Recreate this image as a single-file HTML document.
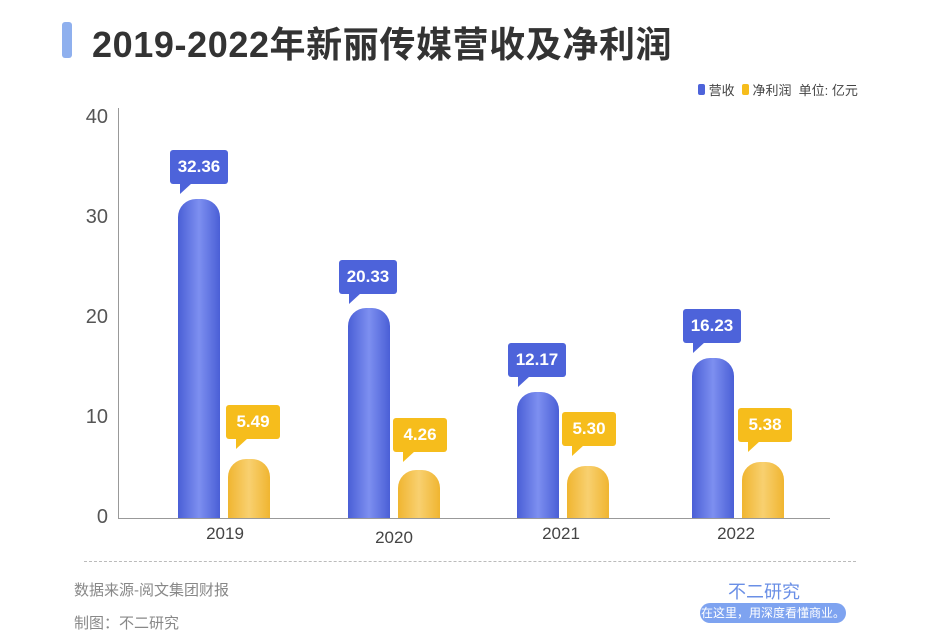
<!DOCTYPE html><html><head><meta charset="utf-8"><style>
body{margin:0;width:940px;height:644px;background:#fff;position:relative;overflow:hidden;font-family:"Liberation Sans","Noto Sans CJK SC",sans-serif}
.a{position:absolute}
.bb{position:absolute;width:42px;border-radius:18px 18px 0 0;background:linear-gradient(90deg,#4a5fd6,#7d8ff0 50%,#4a5fd6)}
.gb{position:absolute;width:42px;border-radius:18px 18px 0 0;background:linear-gradient(90deg,#f0b530,#f8d070 50%,#f0b530)}
.c{position:absolute;height:34px;line-height:34px;color:#fff;font-weight:bold;font-size:17px;text-align:center;border-radius:3px}
.c:after{content:"";position:absolute;left:10px;bottom:-10px;border-left:0 solid transparent;border-right:12px solid transparent;border-top:11px solid}
.cb{background:#4d63da;width:58px}.cb:after{border-top-color:#4d63da}
.cg{background:#f6bd1c;width:54px}.cg:after{border-top-color:#f6bd1c}
.y{position:absolute;left:70px;width:38px;text-align:right;font-size:20px;color:#555}
.x{position:absolute;top:524px;font-size:17px;color:#444;width:60px;text-align:center}
</style></head><body>
<div class="a" style="left:62px;top:22px;width:10px;height:36px;background:#8fb0ee;border-radius:3px"></div>
<div class="a" style="left:92px;top:16px;font-size:36px;letter-spacing:0.6px;font-weight:bold;color:#333">2019-2022年新丽传媒营收及净利润</div>
<div class="a" style="left:698px;top:80px;font-size:13px;color:#444"><span style="display:inline-block;width:7px;height:11px;background:#4d63da;border-radius:2px"></span> 营收 &nbsp;<span style="display:inline-block;width:7px;height:11px;background:#f6bd1c;border-radius:2px"></span> 净利润 &nbsp;单位: 亿元</div>
<div class="a" style="left:118px;top:108px;width:1px;height:411px;background:#999"></div>
<div class="a" style="left:118px;top:518px;width:712px;height:1px;background:#999"></div>
<div class="y" style="top:106px">40</div><div class="y" style="top:206px">30</div><div class="y" style="top:306px">20</div><div class="y" style="top:406px">10</div><div class="y" style="top:506px">0</div>
<div class="bb" style="left:178px;top:199px;height:319px"></div>
<div class="gb" style="left:228px;top:459px;height:59px"></div>
<div class="bb" style="left:348px;top:308px;height:210px"></div>
<div class="gb" style="left:398px;top:470px;height:48px"></div>
<div class="bb" style="left:517px;top:392px;height:126px"></div>
<div class="gb" style="left:567px;top:466px;height:52px"></div>
<div class="bb" style="left:692px;top:358px;height:160px"></div>
<div class="gb" style="left:742px;top:462px;height:56px"></div>
<div class="c cb" style="left:170px;top:150px">32.36</div>
<div class="c cg" style="left:226px;top:405px">5.49</div>
<div class="c cb" style="left:339px;top:260px">20.33</div>
<div class="c cg" style="left:393px;top:418px">4.26</div>
<div class="c cb" style="left:508px;top:343px">12.17</div>
<div class="c cg" style="left:562px;top:412px">5.30</div>
<div class="c cb" style="left:683px;top:309px">16.23</div>
<div class="c cg" style="left:738px;top:408px">5.38</div>
<div class="x" style="left:195px">2019</div><div class="x" style="left:364px;top:528px">2020</div><div class="x" style="left:531px">2021</div><div class="x" style="left:706px">2022</div>
<div class="a" style="left:84px;top:561px;width:772px;border-top:1px dashed #bbb"></div>
<div class="a" style="left:74px;top:579px;font-size:15px;color:#888">数据来源-阅文集团财报</div>
<div class="a" style="left:74px;top:612px;font-size:15px;color:#888">制图：不二研究</div>
<div class="a" style="left:728px;top:578px;font-size:18px;color:#6a8fe6">不二研究</div>
<div class="a" style="left:700px;top:603px;width:146px;height:20px;line-height:20px;background:#7ea3f0;color:#fff;font-size:12px;text-align:center;border-radius:10px">在这里，用深度看懂商业。</div>
</body></html>
